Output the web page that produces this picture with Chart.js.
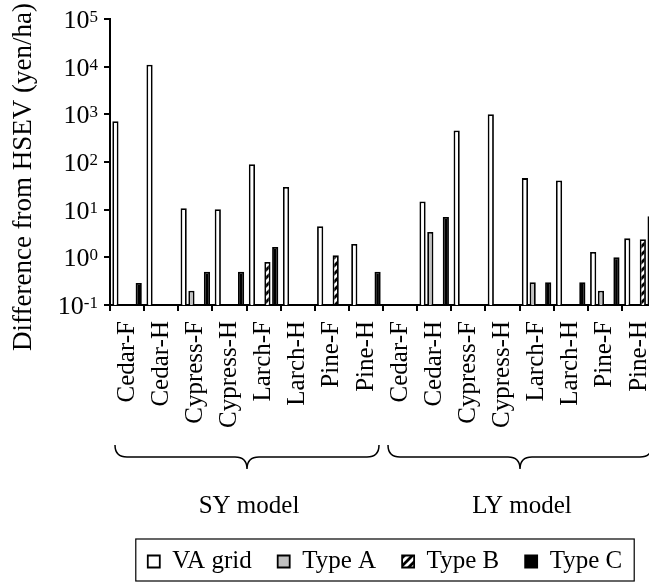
<!DOCTYPE html>
<html>
<head>
<meta charset="utf-8">
<script src="https://cdn.jsdelivr.net/npm/chart.js@4.4.1/dist/chart.umd.min.js"></script>
<style>
  html, body { margin: 0; padding: 0; background: #fff; overflow: hidden; }
  #wrap { width: 656px; height: 584px; }
</style>
</head>
<body>
<div id="wrap"><canvas id="chart" width="656" height="584"></canvas></div>
<script>
var species = ["Cedar-F", "Cedar-H", "Cypress-F", "Cypress-H", "Larch-F", "Larch-H", "Pine-F", "Pine-H"]
var models = ["SY model", "LY model"]
var categories = species.concat(species)

// SY model first 8, LY model last 8 (null = no bar)
var vaGrid = [720, 11000, 10.7, 10.2, 90, 30, 4.5, 1.9,   null, 14.8, 460, 1010, 46, 41, 1.3, 2.5]
var typeA  = [null, null, 0.2, null, null, null, null, null,   null, 3.4, null, null, 0.3, null, 0.2, null]
var typeB  = [null, null, null, null, 0.8, null, 1.1, null,   null, null, null, null, null, null, null, 2.4]
var typeC  = [0.29, null, 0.5, 0.5, 1.65, null, null, 0.5,   null, 7.0, null, null, 0.3, 0.3, 1.0, 7.3]

var yTicks = [0.1, 1, 10, 100, 1000, 10000, 100000]
var yExp   = ["-1", "0", "1", "2", "3", "4", "5"]
var yTitle = "Difference from HSEV (yen/ha)"

var serif = "'Liberation Serif', 'Times New Roman', serif"

// diagonal stripes for Type B
function hatch() {
  var c = document.createElement("canvas")
  c.width = 8; c.height = 8
  var g = c.getContext("2d")
  g.fillStyle = "#fff"; g.fillRect(0, 0, 8, 8)
  g.strokeStyle = "#000"; g.lineWidth = 2.8
  g.beginPath()
  g.moveTo(-2, 10); g.lineTo(10, -2)
  g.moveTo(-2, 2); g.lineTo(2, -2)
  g.moveTo(6, 10); g.lineTo(10, 6)
  g.stroke()
  return g.createPattern(c, "repeat")
}

function brace(ctx, x0, x1, y0, h) {
  var xm = (x0 + x1) / 2, r = h / 2
  ctx.beginPath()
  ctx.moveTo(x0, y0)
  ctx.quadraticCurveTo(x0, y0 + r, x0 + r, y0 + r)
  ctx.lineTo(xm - r, y0 + r)
  ctx.quadraticCurveTo(xm, y0 + r, xm, y0 + h)
  ctx.quadraticCurveTo(xm, y0 + r, xm + r, y0 + r)
  ctx.lineTo(x1 - r, y0 + r)
  ctx.quadraticCurveTo(x1, y0 + r, x1, y0)
  ctx.stroke()
}

var decor = {
  id: "decor",
  afterLayout: function(chart) {
    // legend box sits right of centre in the original
    var lg = chart.legend
    var shift = 385 - (lg.left + lg.right) / 2
    lg.left += shift
    lg.right += shift
  },
  afterDraw: function(chart) {
    var ctx = chart.ctx
    var ys = chart.scales.y, xs = chart.scales.x
    ctx.save()
    ctx.fillStyle = "#000"
    ctx.strokeStyle = "#000"

    // y tick labels 10^n
    ctx.textBaseline = "alphabetic"
    for (var i = 0; i < yTicks.length; i++) {
      var py = ys.getPixelForValue(yTicks[i])
      ctx.font = "17px " + serif
      ctx.textAlign = "right"
      var ew = ctx.measureText(yExp[i]).width
      ctx.fillText(yExp[i], 98, py + 3)
      ctx.font = "26px " + serif
      ctx.fillText("10", 98 - ew, py + 9)
    }

    // y title
    ctx.save()
    ctx.translate(24, 177)
    ctx.rotate(-Math.PI / 2)
    ctx.font = "27px " + serif
    ctx.textAlign = "center"
    ctx.textBaseline = "middle"
    ctx.fillText(yTitle, 0, 0)
    ctx.restore()

    // group braces + model names
    var half = (xs.getPixelForValue(1) - xs.getPixelForValue(0)) / 2
    ctx.lineWidth = 1.5
    ctx.font = "25px " + serif
    ctx.textAlign = "center"
    ctx.textBaseline = "middle"
    for (var g = 0; g < models.length; g++) {
      var a = xs.getPixelForValue(g * species.length) - half + 5
      var b = xs.getPixelForValue((g + 1) * species.length - 1) + half - 4
      brace(ctx, a, b, 445, 24)
      ctx.fillText(models[g], (a + b) / 2 + 2, 506)
    }

    // frame around legend
    var lg = chart.legend
    var p = lg.options.labels.padding
    var w = lg.lineWidths[0] - p
    var cx = (lg.left + lg.right) / 2
    var cy = lg.top + p + 12
    ctx.lineWidth = 1.2
    ctx.strokeRect(cx - w / 2 - 12, cy - 22, w + 24, 42)
    ctx.restore()
  }
}

var ctx = document.getElementById("chart")
var myChart = new Chart(ctx, {
  type: "bar",
  data: {
    labels: categories,
    datasets: [
      { label: "VA grid", data: vaGrid, backgroundColor: "#fff", borderColor: "#000", borderWidth: 1.8 },
      { label: "Type A",  data: typeA,  backgroundColor: "#c0c0c0", borderColor: "#000", borderWidth: 1.8 },
      { label: "Type B",  data: typeB,  backgroundColor: hatch(), borderColor: "#000", borderWidth: 1.8 },
      { label: "Type C",  data: typeC,  backgroundColor: "#000", borderColor: "#000", borderWidth: 1.8 }
    ]
  },
  options: {
    responsive: false,
    animation: false,
    categoryPercentage: 0.91,
    barPercentage: 0.8,
    layout: { padding: { top: 19, left: 0, right: 0, bottom: 0 } },
    plugins: {
      tooltip: { enabled: false },
      legend: {
        position: "bottom",
        labels: {
          color: "#000",
          font: { family: serif, size: 25 },
          boxWidth: 12,
          boxHeight: 12,
          padding: 26
        }
      }
    },
    scales: {
      x: {
        grid: { display: true, drawOnChartArea: false, drawTicks: true, tickLength: 6, color: "#000", lineWidth: 2, offset: true },
        border: { display: true, color: "#000", width: 2 },
        ticks: {
          color: "#000",
          font: { family: serif, size: 25 },
          minRotation: 90,
          maxRotation: 90,
          autoSkip: false,
          padding: 10
        },
        afterFit: function(scale) {
          scale.height = 218
          // the plot runs past the right edge of the picture
          scale.paddingLeft = 0
          scale.paddingRight = 0
        }
      },
      y: {
        type: "logarithmic",
        min: 0.1,
        max: 100000,
        grid: { display: true, drawOnChartArea: false, drawTicks: true, tickLength: 6, color: "#000", lineWidth: 2 },
        border: { display: true, color: "#000", width: 2 },
        ticks: { display: false },
        afterBuildTicks: function(scale) {
          scale.ticks = yTicks.map(function(v) { return { value: v } })
        },
        afterFit: function(scale) { scale.width = 110 }
      }
    }
  },
  plugins: [decor]
})
</script>
</body>
</html>
